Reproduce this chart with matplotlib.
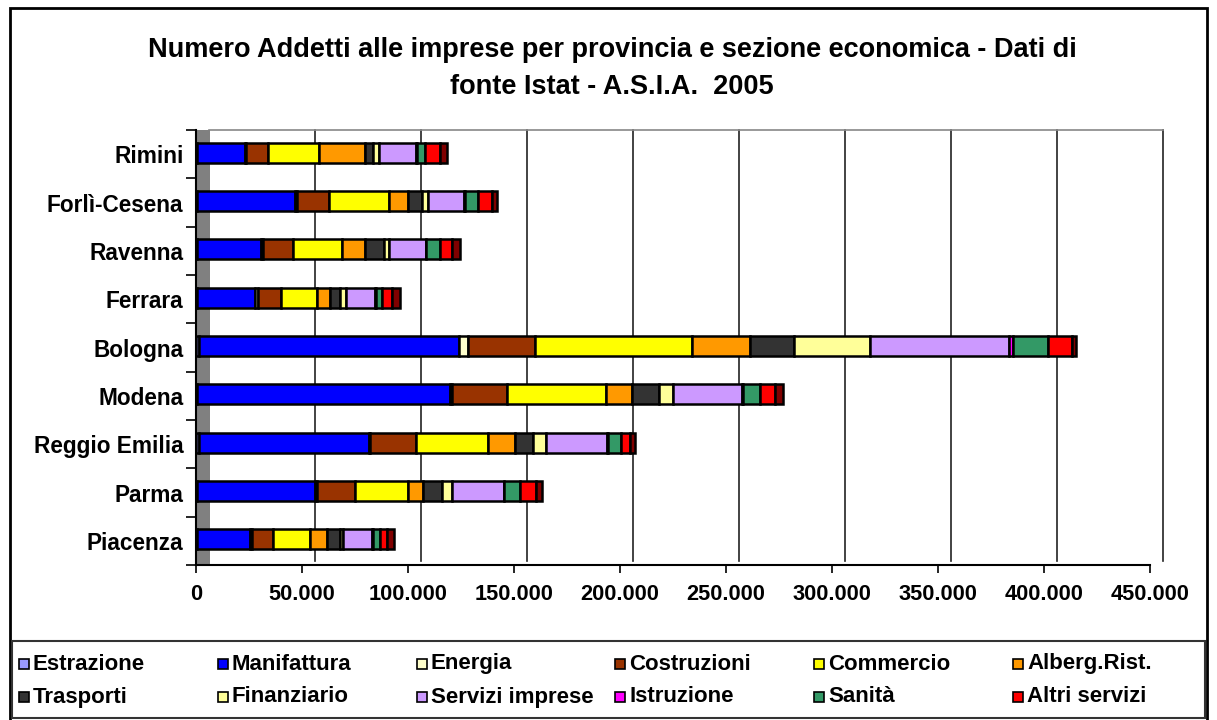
import matplotlib
matplotlib.use("Agg")
import matplotlib.pyplot as plt
import matplotlib.transforms as mtransforms
from matplotlib.patches import Rectangle
from matplotlib.ticker import FuncFormatter, FixedLocator
import numpy as np

plt.rcParams['font.family'] = ['Liberation Sans', 'DejaVu Sans']
plt.rcParams['font.weight'] = 'bold'

# ---------------- data (number of employees, thousands) ----
provinces = ["Piacenza", "Parma", "Reggio Emilia", "Modena", "Bologna",
             "Ferrara", "Ravenna", "Forlì-Cesena", "Rimini"]

sections = ["Estrazione", "Manifattura", "Energia", "Costruzioni", "Commercio",
            "Alberg.Rist.", "Trasporti", "Finanziario", "Servizi imprese",
            "Istruzione", "Sanità", "Altri servizi", "Altre attività"]

colors = ["#9999FF", "#0000FF", "#FFFFCC", "#993300", "#FFFF00", "#FF9900",
          "#333333", "#FFFF99", "#CC99FF", "#FF00FF", "#339966", "#FF0000",
          "#800000"]

# values per section, in province order (thousands)
estrazione      = [0.4, 0.5, 1.5, 0.5, 1.5, 0.4, 0.5, 0.3, 0.4]
manifattura     = [25.3, 55.7, 79.9, 119.1, 122.5, 27.5, 30.3, 46.6, 22.8]
energia         = [0.7, 0.8, 0.8, 1.2, 4.2, 1.3, 0.7, 0.6, 0.4]
costruzioni     = [9.8, 18.1, 21.8, 25.8, 31.5, 11.0, 14.2, 15.3, 10.3]
commercio       = [17.7, 25.0, 33.6, 47.0, 74.2, 16.8, 23.4, 28.1, 24.2]
alberg_rist     = [8.0, 6.9, 13.0, 12.0, 27.2, 6.3, 10.5, 8.9, 21.5]
trasporti       = [5.8, 8.9, 8.3, 13.0, 21.2, 4.4, 9.2, 6.6, 4.0]
finanziario     = [1.5, 4.9, 6.3, 6.3, 35.4, 3.1, 2.2, 3.1, 2.6]
servizi_imprese = [13.9, 24.4, 28.6, 32.5, 66.0, 13.7, 17.3, 17.0, 17.8]
istruzione      = [0.3, 0.3, 0.4, 0.4, 1.6, 0.3, 0.3, 0.3, 0.3]
sanita          = [3.5, 7.1, 6.5, 8.3, 16.5, 3.0, 6.6, 6.1, 3.6]
altri_servizi   = [3.1, 7.9, 3.8, 7.2, 11.3, 4.6, 5.6, 6.5, 7.3]
altre_attivita  = [3.5, 2.5, 2.8, 3.5, 2.1, 3.6, 3.5, 2.5, 3.3]

series = [estrazione, manifattura, energia, costruzioni, commercio, alberg_rist,
          trasporti, finanziario, servizi_imprese, istruzione, sanita,
          altri_servizi, altre_attivita]
legend_count = 12   # the last series is not listed in the legend

xticks = [0, 50000, 100000, 150000, 200000, 250000, 300000, 350000, 400000, 450000]

title = ("Numero Addetti alle imprese per provincia e sezione economica - Dati di\n"
         "fonte Istat - A.S.I.A.  2005")

# ---------------- figure ----------------
W, H = 1217, 720
fig = plt.figure(figsize=(W / 100, H / 100), dpi=100)

def fx(px):
    return px / W

def fy(py):
    return 1 - py / H

# outer border
fig.patches.append(Rectangle((fx(10), fy(721)), fx(1207) - fx(10), fy(8) - fy(721),
                             transform=fig.transFigure, fill=False,
                             edgecolor="black", linewidth=2, zorder=0))

L, R, T, B = 196, 1150, 130, 565
ax = fig.add_axes([fx(L), fy(B), fx(R) - fx(L), fy(T) - fy(B)])
ax.set_xlim(0, 450000)
ax.set_ylim(-0.5, len(provinces) - 0.5)
ax.patch.set_alpha(0)

# 3D-like back wall: gridlines shifted to the right
shift = mtransforms.ScaledTranslation(13 / 100, 0, fig.dpi_scale_trans)
gtrans = mtransforms.blended_transform_factory(ax.transData + shift, ax.transAxes)
for v in xticks[1:]:
    ax.plot([v, v], [0.01, 1.0], transform=gtrans, color="#222222",
            linewidth=1.2, clip_on=False, zorder=1)
ax.plot([0, 450000], [1.0, 1.0], transform=gtrans, color="#888888",
        linewidth=1.2, clip_on=False, zorder=1)
# grey side wall
ax.add_patch(Rectangle((0, 0), 13.5 / (R - L), 1, transform=ax.transAxes,
                       facecolor="#808080", edgecolor="none", zorder=1,
                       clip_on=False))

y = np.arange(len(provinces))
left = np.zeros(len(provinces))
for vals, col, name in zip(series, colors, sections):
    v = np.array(vals) * 1000
    ax.barh(y + 0.03, v, left=left, height=0.41, color=col, edgecolor="black",
            linewidth=1.8, label=name, zorder=3)
    left += v

ax.set_yticks(y)
ax.set_yticklabels(provinces, fontsize=16.3, fontweight="bold")
ax.yaxis.set_minor_locator(FixedLocator(np.arange(-0.5, len(provinces), 1)))
ax.tick_params(axis="y", which="major", length=0, pad=9)
ax.tick_params(axis="y", which="minor", length=7, width=1.2, direction="out")

ax.set_xticks(xticks)
ax.xaxis.set_major_formatter(FuncFormatter(
    lambda v, p: "0" if v == 0 else f"{int(v):,}".replace(",", ".")))
ax.tick_params(axis="x", which="major", length=6, width=1.2, direction="out",
               labelsize=15.7, pad=8)
for lab in ax.get_xticklabels():
    lab.set_fontweight("bold")

for s in ["top", "right"]:
    ax.spines[s].set_visible(False)
for s in ["left", "bottom"]:
    ax.spines[s].set_linewidth(1.5)
    ax.spines[s].set_color("black")

fig.text(0.503, fy(68.5), title, ha="center", va="center", fontsize=19.5,
         fontweight="bold", linespacing=1.56)

# legend
fig.patches.append(Rectangle((fx(12), fy(718)), fx(1205) - fx(12), fy(641) - fy(718),
                             transform=fig.transFigure, fill=False,
                             edgecolor="#333333", linewidth=1.5))
col_x = 19
col_w = 198.8
row_y = [664, 697]
for i in range(legend_count):
    c, r = i % 6, i // 6
    x0 = col_x + c * col_w
    yc = row_y[r]
    fig.patches.append(Rectangle((fx(x0), fy(yc + 5)), fx(10), 10 / H,
                                 transform=fig.transFigure, facecolor=colors[i],
                                 edgecolor="black", linewidth=1.2))
    fig.text(fx(x0 + 14), fy(yc), sections[i], ha="left", va="center",
             fontsize=16, fontweight="bold")

fig.savefig("out.png", dpi=100)
